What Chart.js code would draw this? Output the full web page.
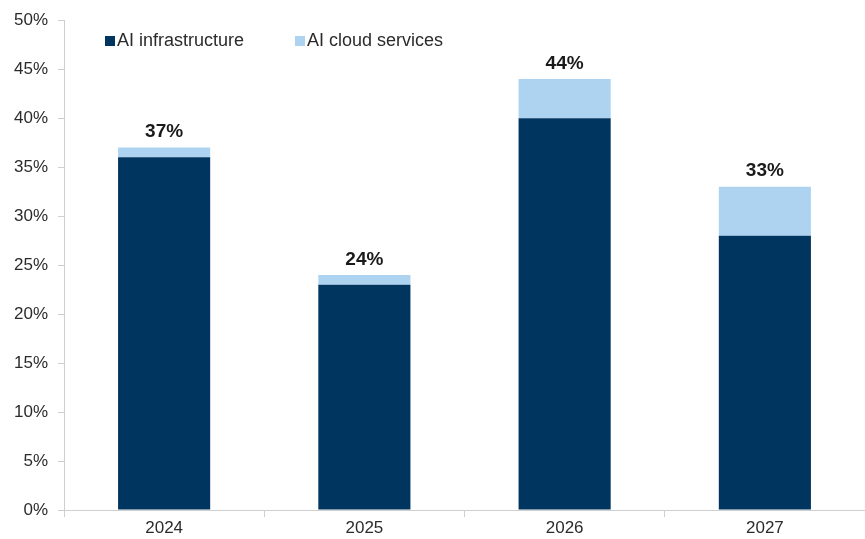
<!DOCTYPE html>
<html>
<head>
<meta charset="utf-8">
<script src="https://cdn.jsdelivr.net/npm/chart.js@4/dist/chart.umd.min.js"></script>
<style>
  html, body { margin: 0; padding: 0; background: #fff; }
  #wrap { width: 865px; height: 539px; }
</style>
</head>
<body>
<div id="wrap"><canvas id="aiChart"></canvas></div>
<script>
const years = ['2024', '2025', '2026', '2027'];
const infrastructure = [36, 23, 40, 28];
const cloudServices = [1, 1, 4, 5];
const yTicks = [0, 5, 10, 15, 20, 25, 30, 35, 40, 45, 50];

const navy = '#00355f';
const lightBlue = '#aed3f0';
const fontFamily = '"Liberation Sans", Arial, sans-serif';

// legend drawn inside the plot, top left
const innerLegend = {
  id: 'innerLegend',
  afterDraw(chart) {
    const ctx = chart.ctx;
    const items = [
      { x: 105, label: chart.data.datasets[0].label, color: chart.data.datasets[0].backgroundColor },
      { x: 295, label: chart.data.datasets[1].label, color: chart.data.datasets[1].backgroundColor }
    ];
    ctx.save();
    ctx.font = '18px ' + fontFamily;
    ctx.textBaseline = 'middle';
    ctx.textAlign = 'left';
    items.forEach(item => {
      ctx.fillStyle = item.color;
      ctx.fillRect(item.x, 36, 10, 10);
      ctx.fillStyle = '#2b2b2b';
      ctx.fillText(item.label, item.x + 12, 41);
    });
    ctx.restore();
  }
};

// total labels on top of each stack
const totalLabels = {
  id: 'totalLabels',
  afterDatasetsDraw(chart) {
    const ctx = chart.ctx;
    const meta = chart.getDatasetMeta(1);
    ctx.save();
    ctx.font = 'bold 19px ' + fontFamily;
    ctx.fillStyle = '#1a1a1a';
    ctx.textAlign = 'center';
    ctx.textBaseline = 'bottom';
    meta.data.forEach((bar, i) => {
      const total = infrastructure[i] + cloudServices[i];
      ctx.fillText(total + '%', bar.x, bar.y - 6);
    });
    ctx.restore();
  }
};

new Chart(document.getElementById('aiChart'), {
  type: 'bar',
  data: {
    labels: years,
    datasets: [
      {
        label: 'AI infrastructure',
        data: infrastructure,
        backgroundColor: navy,
        borderWidth: 0
      },
      {
        label: 'AI cloud services',
        data: cloudServices,
        backgroundColor: lightBlue,
        borderWidth: 0
      }
    ]
  },
  options: {
    responsive: true,
    maintainAspectRatio: false,
    animation: false,
    layout: {
      padding: { top: 12, right: 0, bottom: 0, left: 0 }
    },
    datasets: {
      bar: {
        categoryPercentage: 1,
        barPercentage: 0.46
      }
    },
    plugins: {
      legend: { display: false },
      tooltip: { enabled: false }
    },
    scales: {
      x: {
        stacked: true,
        afterFit: (scale) => { scale.height = 29; },
        grid: {
          offset: true,
          drawOnChartArea: false,
          drawTicks: true,
          tickLength: 7,
          color: '#cfcfcf'
        },
        border: { color: '#cfcfcf' },
        ticks: {
          color: '#2b2b2b',
          font: { family: fontFamily, size: 17 },
          padding: 1
        }
      },
      y: {
        stacked: true,
        min: 0,
        max: 50,
        afterFit: (scale) => { scale.width = 64; },
        afterBuildTicks: (scale) => {
          scale.ticks = yTicks.map(v => ({ value: v }));
        },
        grid: {
          drawOnChartArea: false,
          drawTicks: true,
          tickLength: 6,
          color: '#cfcfcf'
        },
        border: { color: '#cfcfcf' },
        ticks: {
          color: '#2b2b2b',
          font: { family: fontFamily, size: 17 },
          padding: 10,
          callback: (v) => v + '%'
        }
      }
    }
  },
  plugins: [innerLegend, totalLabels]
});
</script>
</body>
</html>
